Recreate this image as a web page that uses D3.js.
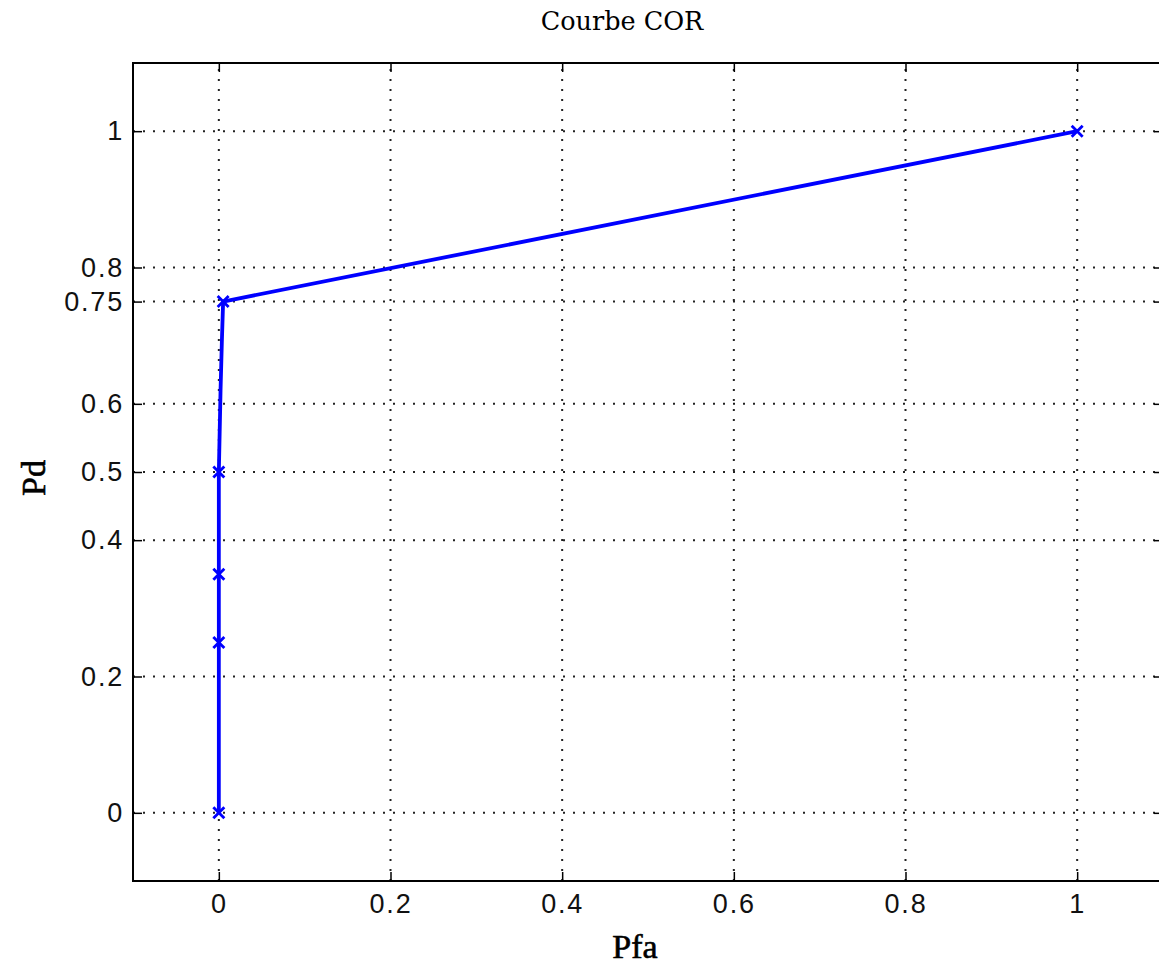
<!DOCTYPE html>
<html>
<head>
<meta charset="utf-8">
<script src="https://cdn.jsdelivr.net/npm/d3@7"></script>
<style>
  html, body { margin: 0; padding: 0; background: #fff; }
  svg { display: block; }
</style>
</head>
<body>
<svg id="chart" width="1159" height="966"></svg>
<script>
// ROC curve: probability of false alarm (Pfa) vs probability of detection (Pd)
const pfa = [0, 0, 0, 0, 0.001, 0.002, 0.0035, 0.005, 1];
const pd  = [0, 0.25, 0.35, 0.5, 0.56, 0.62, 0.69, 0.75, 1];
// indices of the points shown with an "x" marker
const markedIdx = [0, 1, 2, 3, 7, 8];

const xTicks = [0, 0.2, 0.4, 0.6, 0.8, 1];
const yTicks = [0, 0.2, 0.4, 0.5, 0.6, 0.75, 0.8, 1];
const xTickLabels = ["0", "0.2", "0.4", "0.6", "0.8", "1"];
const yTickLabels = ["0", "0.2", "0.4", "0.5", "0.6", "0.75", "0.8", "1"];

const svg = d3.select("#chart");
const plotL = 133, plotR = 1163, plotT = 63, plotB = 881;

const x = d3.scaleLinear().domain([-0.1, 1.1]).range([plotL, plotR]);
const y = d3.scaleLinear().domain([-0.1, 1.1]).range([plotB, plotT]);

svg.append("rect").attr("width", 1159).attr("height", 966).attr("fill", "#fff");

// dotted grid
const grid = svg.append("g")
  .attr("stroke", "#222").attr("stroke-width", 2)
  .attr("stroke-dasharray", "2,8");
grid.selectAll(".gx").data(xTicks).join("line")
  .attr("x1", d => x(d)).attr("x2", d => x(d))
  .attr("y1", plotB).attr("y2", plotT);
grid.selectAll(".gy").data(yTicks).join("line")
  .attr("y1", d => y(d)).attr("y2", d => y(d))
  .attr("x1", plotL).attr("x2", plotR);

const tickFont = "'Liberation Sans', Arial, sans-serif";

// axes with inward ticks
const xAxis = d3.axisBottom(x).tickValues(xTicks)
  .tickFormat((d, i) => xTickLabels[i]).tickSize(-9).tickPadding(13);
const xAxisTop = d3.axisTop(x).tickValues(xTicks)
  .tickFormat("").tickSize(-9);
const yAxis = d3.axisLeft(y).tickValues(yTicks)
  .tickFormat((d, i) => yTickLabels[i]).tickSize(-9).tickPadding(9);
const yAxisRight = d3.axisRight(y).tickValues(yTicks)
  .tickFormat("").tickSize(-9);

function styleAxis(g) {
  g.select(".domain").remove();
  g.selectAll(".tick line").attr("stroke", "#000").attr("stroke-width", 1.5);
  g.selectAll(".tick text").attr("fill", "#111")
    .style("font-family", tickFont).style("font-size", "27px")
    .style("letter-spacing", "1.8px").style("font-weight", 300);
}

svg.append("g").attr("transform", `translate(0,${plotB})`).call(xAxis).call(styleAxis);
svg.append("g").attr("transform", `translate(0,${plotT})`).call(xAxisTop).call(styleAxis);
svg.append("g").attr("transform", `translate(${plotL},0)`).call(yAxis).call(styleAxis);
svg.append("g").attr("transform", `translate(${plotR},0)`).call(yAxisRight).call(styleAxis);

// axes box
svg.append("rect")
  .attr("x", plotL).attr("y", plotT)
  .attr("width", plotR - plotL).attr("height", plotB - plotT)
  .attr("fill", "none").attr("stroke", "#000").attr("stroke-width", 2);

// curve
const pts = pfa.map((v, i) => [v, pd[i]]);
svg.append("path")
  .datum(pts)
  .attr("fill", "none")
  .attr("stroke", "#0000ff")
  .attr("stroke-width", 3.8)
  .attr("stroke-linejoin", "round")
  .attr("d", d3.line().x(d => x(d[0])).y(d => y(d[1])));

// x markers
const m = 5.5;
const marks = svg.append("g").attr("stroke", "#0000ff").attr("stroke-width", 2.8);
markedIdx.forEach(i => {
  const cx = x(pfa[i]), cy = y(pd[i]);
  marks.append("path")
    .attr("d", `M${cx - m},${cy - m}L${cx + m},${cy + m}M${cx - m},${cy + m}L${cx + m},${cy - m}`);
});

// title and axis labels
svg.append("text")
  .attr("x", 622).attr("y", 30)
  .attr("text-anchor", "middle")
  .style("font-family", "'DejaVu Serif', 'Liberation Serif', serif")
  .style("font-size", "25.5px")
  .attr("fill", "#000")
  .text("Courbe COR");

svg.append("text")
  .attr("x", 635).attr("y", 958)
  .attr("text-anchor", "middle")
  .style("font-family", "'Liberation Serif', 'Times New Roman', serif")
  .style("font-size", "34px")
  .attr("fill", "#000").attr("stroke", "#000").attr("stroke-width", 0.6)
  .text("Pfa");

svg.append("text")
  .attr("transform", "translate(45,478) rotate(-90)")
  .attr("text-anchor", "middle")
  .style("font-family", "'Liberation Serif', 'Times New Roman', serif")
  .style("font-size", "34px")
  .attr("fill", "#000").attr("stroke", "#000").attr("stroke-width", 0.6)
  .text("Pd");
</script>
</body>
</html>
